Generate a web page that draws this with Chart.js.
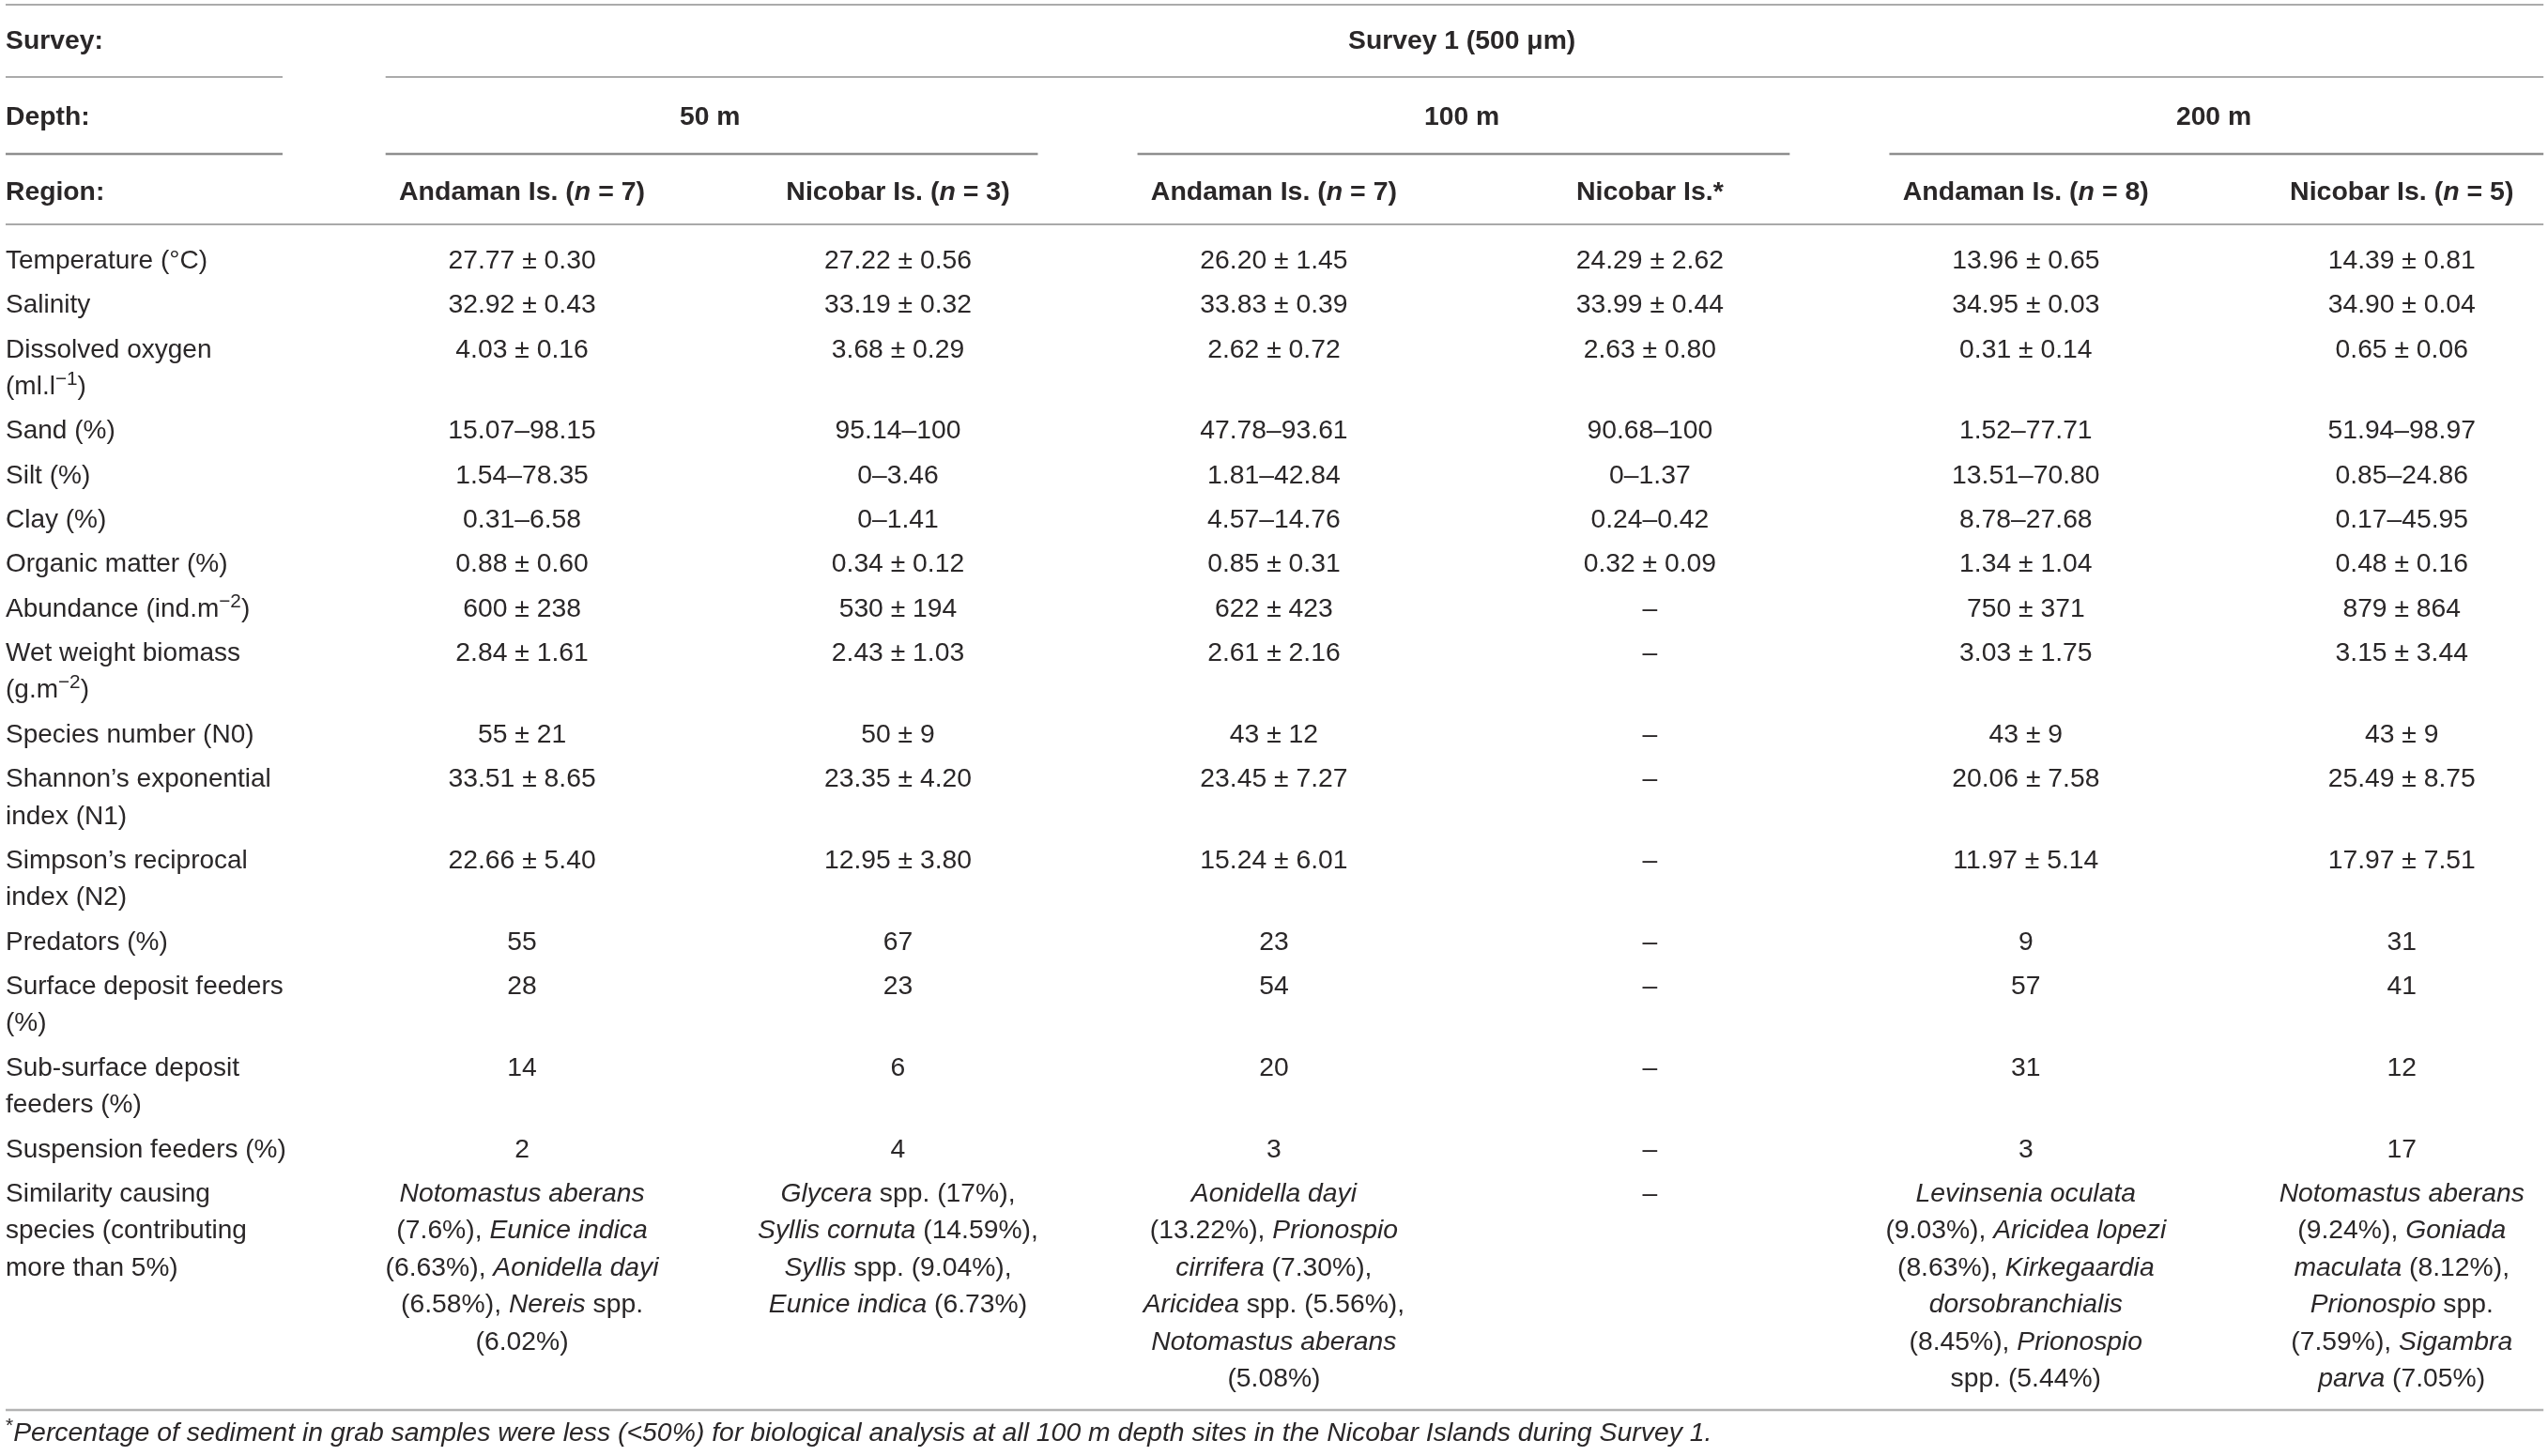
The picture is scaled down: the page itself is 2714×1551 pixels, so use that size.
<!DOCTYPE html>
<html>
<head>
<meta charset="utf-8">
<title>Survey 1 (500 μm) – environmental and macrofaunal parameters</title>
<script src="https://cdn.jsdelivr.net/npm/chart.js@4.4.1/dist/chart.umd.min.js"></script>
<style>
  html, body { margin: 0; padding: 0; background: #fff; }
  #table { display: block; }
</style>
</head>
<body>
<canvas id="table" width="2714" height="1551" style="width:2714px;height:1551px"></canvas>
<script>
// _text_ = italic, ^text^ = superscript, \n = line break inside a cell

const headerLabels = ['Survey:', 'Depth:', 'Region:'];
const surveyLabels = ['Survey 1 (500 μm)'];
const depthLabels = ['50 m', '100 m', '200 m'];
const regionLabels = [
  'Andaman Is. (_n_ = 7)',
  'Nicobar Is. (_n_ = 3)',
  'Andaman Is. (_n_ = 7)',
  'Nicobar Is.*',
  'Andaman Is. (_n_ = 8)',
  'Nicobar Is. (_n_ = 5)'
];

const rowLabels = [
  'Temperature (°C)',
  'Salinity',
  'Dissolved oxygen\n(ml.l^−1^)',
  'Sand (%)',
  'Silt (%)',
  'Clay (%)',
  'Organic matter (%)',
  'Abundance (ind.m^−2^)',
  'Wet weight biomass\n(g.m^−2^)',
  'Species number (N0)',
  'Shannon’s exponential\nindex (N1)',
  'Simpson’s reciprocal\nindex (N2)',
  'Predators (%)',
  'Surface deposit feeders\n(%)',
  'Sub-surface deposit\nfeeders (%)',
  'Suspension feeders (%)',
  'Similarity causing\nspecies (contributing\nmore than 5%)'
];

const andaman50 = [
  '27.77 ± 0.30', '32.92 ± 0.43', '4.03 ± 0.16', '15.07–98.15', '1.54–78.35',
  '0.31–6.58', '0.88 ± 0.60', '600 ± 238', '2.84 ± 1.61', '55 ± 21',
  '33.51 ± 8.65', '22.66 ± 5.40', '55', '28', '14', '2',
  '_Notomastus aberans_\n(7.6%), _Eunice indica_\n(6.63%), _Aonidella dayi_\n(6.58%), _Nereis_ spp.\n(6.02%)'
];
const nicobar50 = [
  '27.22 ± 0.56', '33.19 ± 0.32', '3.68 ± 0.29', '95.14–100', '0–3.46',
  '0–1.41', '0.34 ± 0.12', '530 ± 194', '2.43 ± 1.03', '50 ± 9',
  '23.35 ± 4.20', '12.95 ± 3.80', '67', '23', '6', '4',
  '_Glycera_ spp. (17%),\n_Syllis cornuta_ (14.59%),\n_Syllis_ spp. (9.04%),\n_Eunice indica_ (6.73%)'
];
const andaman100 = [
  '26.20 ± 1.45', '33.83 ± 0.39', '2.62 ± 0.72', '47.78–93.61', '1.81–42.84',
  '4.57–14.76', '0.85 ± 0.31', '622 ± 423', '2.61 ± 2.16', '43 ± 12',
  '23.45 ± 7.27', '15.24 ± 6.01', '23', '54', '20', '3',
  '_Aonidella dayi_\n(13.22%), _Prionospio_\n_cirrifera_ (7.30%),\n_Aricidea_ spp. (5.56%),\n_Notomastus aberans_\n(5.08%)'
];
const nicobar100 = [
  '24.29 ± 2.62', '33.99 ± 0.44', '2.63 ± 0.80', '90.68–100', '0–1.37',
  '0.24–0.42', '0.32 ± 0.09', '–', '–', '–',
  '–', '–', '–', '–', '–', '–',
  '–'
];
const andaman200 = [
  '13.96 ± 0.65', '34.95 ± 0.03', '0.31 ± 0.14', '1.52–77.71', '13.51–70.80',
  '8.78–27.68', '1.34 ± 1.04', '750 ± 371', '3.03 ± 1.75', '43 ± 9',
  '20.06 ± 7.58', '11.97 ± 5.14', '9', '57', '31', '3',
  '_Levinsenia oculata_\n(9.03%), _Aricidea lopezi_\n(8.63%), _Kirkegaardia_\n_dorsobranchialis_\n(8.45%), _Prionospio_\nspp. (5.44%)'
];
const nicobar200 = [
  '14.39 ± 0.81', '34.90 ± 0.04', '0.65 ± 0.06', '51.94–98.97', '0.85–24.86',
  '0.17–45.95', '0.48 ± 0.16', '879 ± 864', '3.15 ± 3.44', '43 ± 9',
  '25.49 ± 8.75', '17.97 ± 7.51', '31', '41', '12', '17',
  '_Notomastus aberans_\n(9.24%), _Goniada_\n_maculata_ (8.12%),\n_Prionospio_ spp.\n(7.59%), _Sigambra_\n_parva_ (7.05%)'
];

const footnote = '^*^_Percentage of sediment in grab samples were less (<50%) for biological analysis at all 100 m depth sites in the Nicobar Islands during Survey 1._';

const columns = [andaman50, nicobar50, andaman100, nicobar100, andaman200, nicobar200];

// layout: x in column units (data column i is centred on i), y in table pixels from the top
const X_MIN = -1.3886, X_MAX = 5.389;
const LABEL_X = -1.3736, LABEL_END = -0.637, RIGHT_X = 5.377;
const Y_MAX = 1551;
const HEADER_Y = [52, 133, 213];
const RULE_Y = { top: 5, survey: 82, depth: 164, region: 239, bottom: 1502 };
const FIRST_ROW_Y = 286, ROW_PITCH = 47.3, LINE_PITCH = 39.5, FOOT_Y = 1535;

const TEXT = '#2a2728';
const FONT = '"Liberation Sans", Arial, Helvetica, sans-serif';
const SIZE = 28;

const rowY = [];
let yCursor = FIRST_ROW_Y;
rowLabels.forEach(function (label, i) {
  rowY.push(yCursor);
  let lines = label.split('\n').length;
  columns.forEach(function (col) { lines = Math.max(lines, col[i].split('\n').length); });
  yCursor += ROW_PITCH + LINE_PITCH * (lines - 1);
});

function cellSet(texts, xs, ys, opts) {
  return Object.assign({
    type: 'scatter',
    data: texts.map(function (t, i) { return { x: xs[i], y: ys[i] }; }),
    cells: texts,
    pointRadius: 0,
    pointHoverRadius: 0,
    align: 'center',
    bold: false,
    size: SIZE
  }, opts || {});
}

function rule(x0, x1, y, color, width) {
  return {
    type: 'line',
    data: [{ x: x0, y: y }, { x: x1, y: y }],
    borderColor: color,
    borderWidth: width,
    pointRadius: 0,
    showLine: true,
    fill: false
  };
}

const datasets = [
  rule(LABEL_X, RIGHT_X, RULE_Y.top, '#8f8f8f', 1.5),
  rule(LABEL_X, LABEL_END, RULE_Y.survey, '#8f8f8f', 1.6),
  rule(-0.363, RIGHT_X, RULE_Y.survey, '#8f8f8f', 1.6),
  rule(LABEL_X, LABEL_END, RULE_Y.depth, '#8f8f8f', 2.4),
  rule(-0.363, 1.372, RULE_Y.depth, '#8f8f8f', 2.4),
  rule(1.637, 3.372, RULE_Y.depth, '#8f8f8f', 2.4),
  rule(3.637, RIGHT_X, RULE_Y.depth, '#8f8f8f', 2.4),
  rule(LABEL_X, RIGHT_X, RULE_Y.region, '#a9a9a9', 2.2),
  rule(LABEL_X, RIGHT_X, RULE_Y.bottom, '#b3b3b3', 2.4),

  cellSet(headerLabels, headerLabels.map(function () { return LABEL_X; }), HEADER_Y, { align: 'left', bold: true, size: 28.3 }),
  cellSet(surveyLabels, [2.5], [HEADER_Y[0]], { bold: true, size: 28.3 }),
  cellSet(depthLabels, [0.5, 2.5, 4.5], depthLabels.map(function () { return HEADER_Y[1]; }), { bold: true, size: 28.3 }),
  cellSet(regionLabels, regionLabels.map(function (r, i) { return i; }), regionLabels.map(function () { return HEADER_Y[2]; }), { bold: true, size: 28.5 }),
  cellSet(rowLabels, rowLabels.map(function () { return LABEL_X; }), rowY, { align: 'left' }),
  cellSet([footnote], [LABEL_X], [FOOT_Y], { align: 'left', size: 28.4 })
];
columns.forEach(function (col, c) {
  datasets.push(cellSet(col, col.map(function () { return c; }), rowY, { size: 28.3 }));
});

function parseRich(text) {
  const segs = [];
  let it = false, sup = false, buf = '';
  for (const ch of text) {
    if (ch === '_' || ch === '^') {
      if (buf) segs.push({ t: buf, it: it, sup: sup });
      buf = '';
      if (ch === '_') it = !it; else sup = !sup;
    } else {
      buf += ch;
    }
  }
  if (buf) segs.push({ t: buf, it: it, sup: sup });
  return segs;
}

function fontFor(seg, bold, size) {
  const s = seg.sup ? size * 0.74 : size;
  return (seg.it ? 'italic ' : '') + (bold ? 'bold ' : '') + s + 'px ' + FONT;
}

function drawRich(ctx, text, x, y, align, bold, size) {
  const segs = parseRich(text);
  let w = 0;
  segs.forEach(function (s) {
    ctx.font = fontFor(s, bold, size);
    s.w = ctx.measureText(s.t).width;
    w += s.w;
  });
  let cx = align === 'center' ? x - w / 2 : x;
  segs.forEach(function (s) {
    ctx.font = fontFor(s, bold, size);
    ctx.fillText(s.t, cx, y - (s.sup ? size * 0.36 : 0));
    cx += s.w;
  });
}

const cellText = {
  id: 'cellText',
  afterDatasetsDraw: function (chart) {
    const ctx = chart.ctx;
    const ys = chart.scales.y;
    const pitch = Math.abs(ys.getPixelForValue(LINE_PITCH) - ys.getPixelForValue(0));
    ctx.save();
    ctx.fillStyle = TEXT;
    ctx.textBaseline = 'alphabetic';
    ctx.textAlign = 'left';
    chart.data.datasets.forEach(function (ds, d) {
      if (!ds.cells) return;
      const meta = chart.getDatasetMeta(d);
      meta.data.forEach(function (el, j) {
        ds.cells[j].split('\n').forEach(function (line, k) {
          drawRich(ctx, line, el.x, el.y + k * pitch, ds.align, ds.bold, ds.size);
        });
      });
    });
    ctx.restore();
  }
};

const config = {
  type: 'scatter',
  data: { datasets: datasets },
  options: {
    responsive: false,
    devicePixelRatio: 1,
    animation: false,
    events: [],
    layout: { padding: 0 },
    plugins: { legend: { display: false }, tooltip: { enabled: false } },
    scales: {
      x: { type: 'linear', min: X_MIN, max: X_MAX, display: false },
      y: { type: 'linear', min: 0, max: Y_MAX, reverse: true, display: false }
    }
  },
  plugins: [cellText]
};

const tableChart = new Chart(document.getElementById('table'), config);
</script>
</body>
</html>
